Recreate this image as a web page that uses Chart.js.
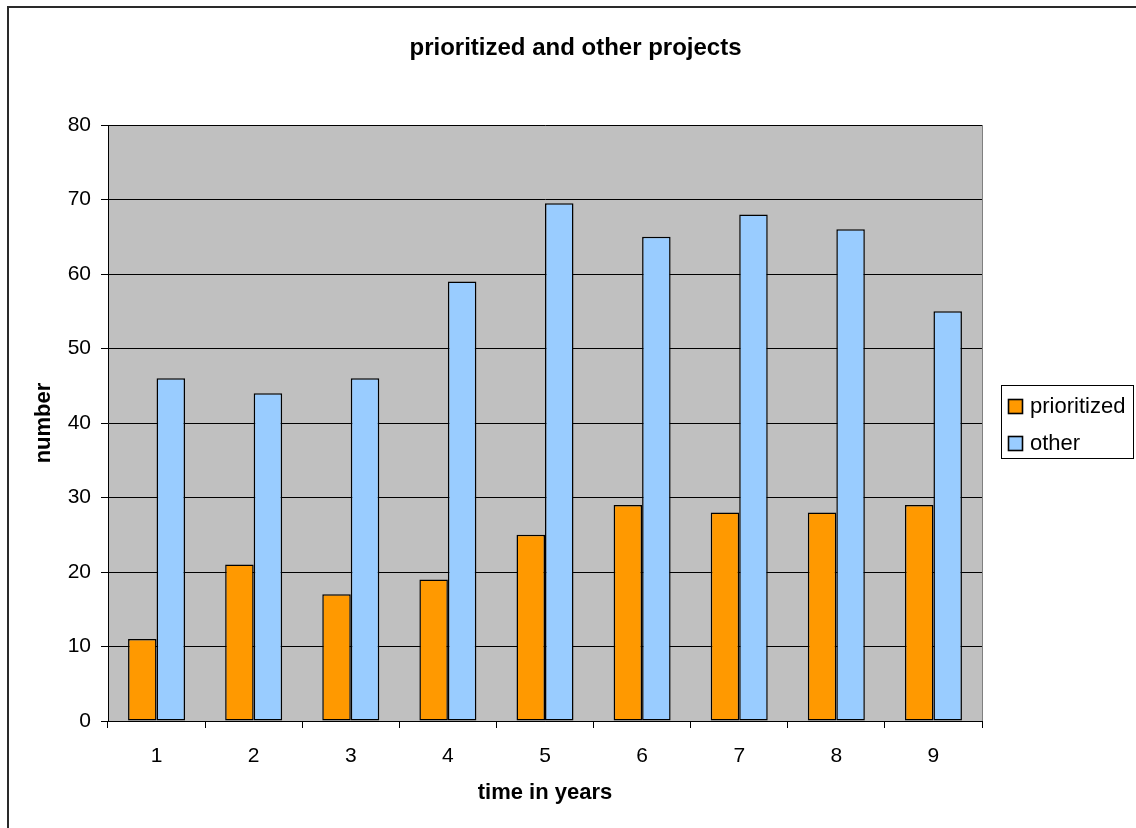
<!DOCTYPE html>
<html>
<head>
<meta charset="utf-8">
<title>prioritized and other projects</title>
<script src="https://cdn.jsdelivr.net/npm/chart.js@4.4.1/dist/chart.umd.min.js"></script>
<style>
  html, body { margin: 0; padding: 0; background: #ffffff; }
  #wrap { width: 1136px; height: 828px; position: relative; }
</style>
</head>
<body>
<div id="wrap"><canvas id="chart" width="1136" height="828"></canvas></div>
<script>
// Projects per year
const categories = ['1', '2', '3', '4', '5', '6', '7', '8', '9'];
const prioritized = [11, 21, 17, 19, 25, 29, 28, 28, 29];
const other = [46, 44, 46, 59, 69.5, 65, 68, 66, 55];
const yTicks = [0, 10, 20, 30, 40, 50, 60, 70, 80];

const chartTitle = 'prioritized and other projects';
const xTitle = 'time in years';
const yTitle = 'number';
const seriesNames = ['prioritized', 'other'];
const seriesColors = ['#FF9900', '#99CCFF'];

const FONT = "'Liberation Sans', Arial, Helvetica, sans-serif";

// Grey plot background and the outer frame of the chart
const backdrop = {
  id: 'backdrop',
  beforeDraw(chart) {
    const { ctx, chartArea: a } = chart;
    ctx.save();
    ctx.fillStyle = '#ffffff';
    ctx.fillRect(0, 0, chart.width, chart.height);
    ctx.fillStyle = '#C0C0C0';
    ctx.fillRect(a.left, a.top, a.right - a.left, a.bottom - a.top);
    ctx.strokeStyle = '#808080';
    ctx.lineWidth = 1;
    ctx.beginPath();
    ctx.moveTo(Math.round(a.right) + 0.5, a.top);
    ctx.lineTo(Math.round(a.right) + 0.5, a.bottom);
    ctx.stroke();
    // outer frame (top and left edges)
    ctx.strokeStyle = '#2a2a2a';
    ctx.lineWidth = 2;
    ctx.beginPath();
    ctx.moveTo(8, chart.height + 2);
    ctx.lineTo(8, 7);
    ctx.lineTo(chart.width + 2, 7);
    ctx.stroke();
    ctx.restore();
  }
};

// Chart title and boxed legend on the right
const decorations = {
  id: 'decorations',
  afterDraw(chart) {
    const { ctx } = chart;
    ctx.save();
    ctx.fillStyle = '#000000';
    ctx.font = 'bold 24px ' + FONT;
    ctx.textAlign = 'center';
    ctx.textBaseline = 'middle';
    ctx.fillText(chartTitle, 575.5, 48);

    // legend frame
    ctx.strokeStyle = '#000000';
    ctx.lineWidth = 1;
    ctx.strokeRect(1001.5, 385.5, 132, 73);

    ctx.font = '22px ' + FONT;
    ctx.textAlign = 'left';
    chart.data.datasets.forEach((ds, i) => {
      const cy = 406 + i * 37;
      ctx.fillStyle = ds.backgroundColor;
      ctx.fillRect(1008, cy - 7, 15, 15);
      ctx.strokeStyle = '#000000';
      ctx.lineWidth = 1.6;
      ctx.strokeRect(1008.5, cy - 6.5, 14, 14);
      ctx.fillStyle = '#000000';
      ctx.fillText(ds.label, 1030, cy + 1);
    });
    ctx.restore();
  }
};

Chart.defaults.color = '#000000';
Chart.defaults.font.family = FONT;

new Chart(document.getElementById('chart'), {
  type: 'bar',
  data: {
    labels: categories,
    datasets: [
      {
        label: seriesNames[0],
        data: prioritized,
        backgroundColor: seriesColors[0],
        borderColor: '#000000',
        borderWidth: 1.5,
        borderSkipped: false
      },
      {
        label: seriesNames[1],
        data: other,
        backgroundColor: seriesColors[1],
        borderColor: '#000000',
        borderWidth: 1.5,
        borderSkipped: false
      }
    ]
  },
  options: {
    responsive: false,
    animation: false,
    devicePixelRatio: 1,
    categoryPercentage: 0.587,
    barPercentage: 1.0,
    layout: { padding: { top: 125, left: 20, right: 154, bottom: 5 } },
    plugins: {
      legend: { display: false },
      title: { display: false },
      tooltip: { enabled: false }
    },
    scales: {
      x: {
        grid: {
          display: true,
          offset: true,
          drawOnChartArea: false,
          drawTicks: true,
          tickLength: 7,
          color: '#000000',
          lineWidth: 1
        },
        border: { display: true, color: '#000000', width: 1 },
        ticks: { font: { size: 21 }, padding: 16, color: '#000000' },
        title: {
          display: true,
          text: xTitle,
          font: { size: 22, weight: 'bold' },
          padding: { top: 0, bottom: 17 },
          color: '#000000'
        },
        afterFit(scale) { scale.height = 102; }
      },
      y: {
        min: 0,
        max: 80,
        afterBuildTicks(scale) { scale.ticks = yTicks.map(v => ({ value: v })); },
        grid: {
          color: '#000000',
          lineWidth: 1,
          drawTicks: true,
          tickLength: 7
        },
        border: { display: true, color: '#000000', width: 1 },
        ticks: { font: { size: 21 }, padding: 10, color: '#000000' },
        title: {
          display: true,
          text: yTitle,
          font: { size: 22, weight: 'bold' },
          padding: { top: 11, bottom: 0 },
          color: '#000000'
        },
        afterFit(scale) { scale.width = 88; }
      }
    }
  },
  plugins: [backdrop, decorations]
});
</script>
</body>
</html>
